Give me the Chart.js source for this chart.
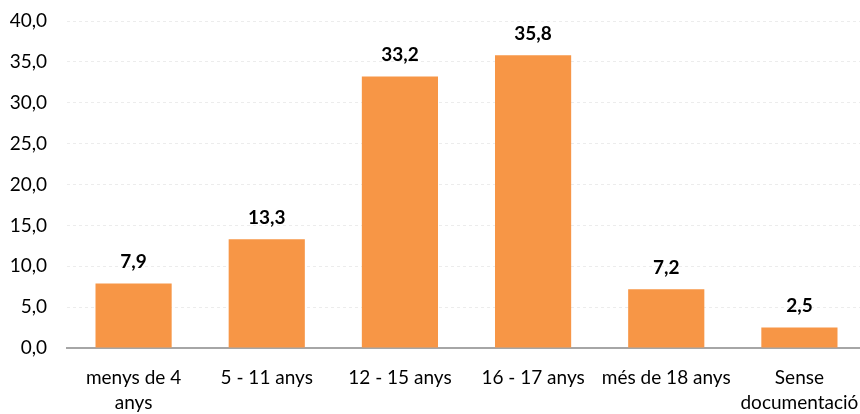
<!DOCTYPE html>
<html>
<head>
<meta charset="utf-8">
<script src="https://cdn.jsdelivr.net/npm/chart.js@4/dist/chart.umd.min.js"></script>
<style>
  html, body { margin: 0; padding: 0; background: #fff; overflow: hidden; }
  /* plot runs slightly past the right edge of the window */
  #wrap { width: 866px; height: 414px; }
</style>
</head>
<body>
<div id="wrap"><canvas id="chart"></canvas></div>
<script>
const categories = [
    ["menys de 4", "anys"],
    "5 - 11 anys",
    "12 - 15 anys",
    "16 - 17 anys",
    "més de 18 anys",
    ["Sense", "documentació"]
];
const percentages = [7.9, 13.3, 33.2, 35.8, 7.2, 2.5];

const fontFamily = "Lato, 'Open Sans', sans-serif";
const fmt = (v) => v.toFixed(1).replace(".", ",");

// bold value above each bar
const valueLabels = {
    id: "valueLabels",
    afterDatasetsDraw(chart) {
        const ctx = chart.ctx;
        const meta = chart.getDatasetMeta(0);
        ctx.save();
        ctx.font = "bold 19px " + fontFamily;
        ctx.fillStyle = "#000";
        ctx.textAlign = "center";
        ctx.textBaseline = "bottom";
        meta.data.forEach((bar, i) => {
            ctx.fillText(fmt(chart.data.datasets[0].data[i]), bar.x, bar.y - 12);
        });
        ctx.restore();
    }
};

new Chart(document.getElementById("chart"), {
    type: "bar",
    data: {
        labels: categories,
        datasets: [{
            data: percentages,
            backgroundColor: "#F79646",
            barPercentage: 0.572,
            categoryPercentage: 1
        }]
    },
    options: {
        responsive: true,
        maintainAspectRatio: false,
        animation: false,
        layout: { padding: { top: 21, right: 0, left: 0, bottom: 0 } },
        plugins: {
            legend: { display: false },
            tooltip: { enabled: false }
        },
        scales: {
            x: {
                grid: { display: false, drawTicks: false },
                border: { color: "#a6a6a6", width: 2 },
                ticks: {
                    color: "#000",
                    padding: 18,
                    maxRotation: 0,
                    autoSkip: false,
                    font: { family: fontFamily, size: 19, lineHeight: 1.3 }
                },
                // let the last label run off the edge instead of shrinking the plot
                afterFit: (s) => {
                    s.paddingLeft = 0;
                    s.paddingRight = 0;
                    s.height = 66;
                }
            },
            y: {
                min: 0,
                max: 40,
                grid: { color: "#ececec", drawTicks: false },
                border: { display: false, dash: [3, 3] },
                ticks: {
                    stepSize: 5,
                    color: "#000",
                    padding: 20,
                    callback: (v) => fmt(v),
                    font: { family: fontFamily, size: 19 }
                },
                afterFit: (s) => {
                    s.paddingTop = 0;
                    s.paddingBottom = 0;
                    s.width = 67;
                }
            }
        }
    },
    plugins: [valueLabels]
});
</script>
</body>
</html>
